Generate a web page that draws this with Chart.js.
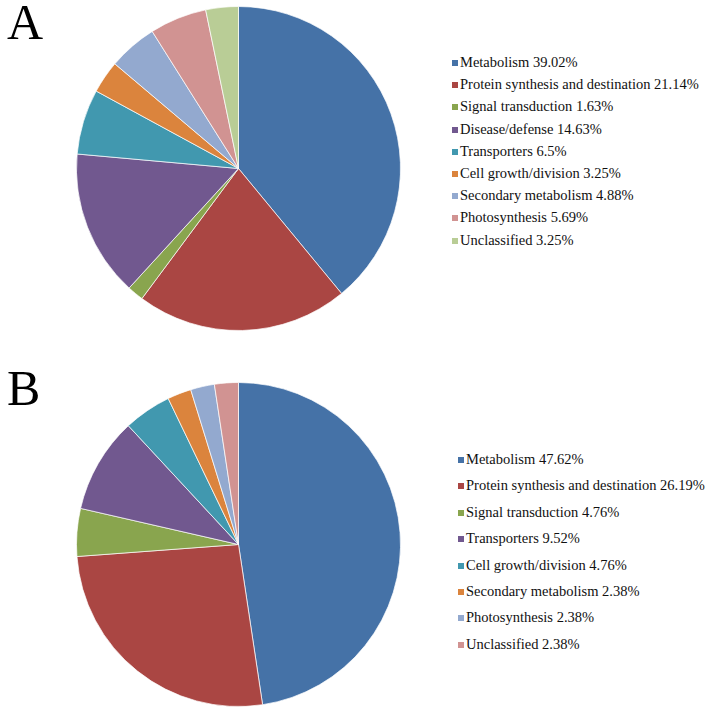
<!DOCTYPE html>
<html>
<head>
<meta charset="utf-8">
<script src="https://cdn.jsdelivr.net/npm/chart.js@4.4.0/dist/chart.umd.min.js"></script>
<style>
  body { margin: 0; background: #fff; }
  #wrap { position: relative; width: 714px; height: 710px; overflow: hidden; font-family: "Liberation Serif", "DejaVu Serif", serif; }
  .tag { position: absolute; left: 7px; font-family: "Liberation Serif", serif; font-size: 50px; line-height: 50px; color: #000; }
  .pie { position: absolute; }
  .legend { position: absolute; font-family: "Liberation Serif", serif; font-size: 14.5px; color: #111; }
  .legend div { white-space: nowrap; }
  .legend span.box { display: inline-block; width: 6px; height: 6px; margin-right: 2px; vertical-align: 1px; }
</style>
</head>
<body>
<div id="wrap">
  <div class="tag" style="top:-3px">A</div>
  <div class="tag" style="top:363px">B</div>
  <canvas id="pieA" class="pie" width="325" height="325" style="left:76px;top:6px"></canvas>
  <canvas id="pieB" class="pie" width="325" height="325" style="left:76px;top:382px"></canvas>
  <div id="legendA" class="legend" style="left:452px;top:51px"></div>
  <div id="legendB" class="legend" style="left:458px;top:446px"></div>
</div>
<script>
// panel A
var labelsA = ['Metabolism', 'Protein synthesis and destination', 'Signal transduction', 'Disease/defense',
  'Transporters', 'Cell growth/division', 'Secondary metabolism', 'Photosynthesis', 'Unclassified'];
var valuesA = [39.02, 21.14, 1.63, 14.63, 6.5, 3.25, 4.88, 5.69, 3.25];
var colorsA = ['#4572A7', '#AA4643', '#89A54E', '#71588F', '#4198AF', '#DB843D', '#93A9CF', '#D19392', '#B9CD96'];

// panel B
var labelsB = ['Metabolism', 'Protein synthesis and destination', 'Signal transduction', 'Transporters',
  'Cell growth/division', 'Secondary metabolism', 'Photosynthesis', 'Unclassified'];
var valuesB = [47.62, 26.19, 4.76, 9.52, 4.76, 2.38, 2.38, 2.38];
var colorsB = ['#4572A7', '#AA4643', '#89A54E', '#71588F', '#4198AF', '#DB843D', '#93A9CF', '#D19392'];

function makePie(id, labels, values, colors) {
  return new Chart(document.getElementById(id).getContext('2d'), {
    type: 'pie',
    data: {
      labels: labels,
      datasets: [{
        data: values,
        backgroundColor: colors,
        borderColor: 'rgba(255,255,255,0.7)',
        borderWidth: 1,
        hoverOffset: 0
      }]
    },
    options: {
      responsive: false,
      animation: false,
      layout: { padding: 0 },
      plugins: {
        legend: { display: false },
        tooltip: { enabled: false }
      }
    }
  });
}

function makeLegend(id, labels, values, colors, rowHeight) {
  var box = document.getElementById(id);
  labels.forEach(function (lab, i) {
    var row = document.createElement('div');
    row.style.height = rowHeight + 'px';
    row.style.lineHeight = rowHeight + 'px';
    var sq = document.createElement('span');
    sq.className = 'box';
    sq.style.background = colors[i];
    row.appendChild(sq);
    row.appendChild(document.createTextNode(lab + ' ' + values[i] + '%'));
    box.appendChild(row);
  });
}

makePie('pieA', labelsA, valuesA, colorsA);
makePie('pieB', labelsB, valuesB, colorsB);
makeLegend('legendA', labelsA, valuesA, colorsA, 22.2);
makeLegend('legendB', labelsB, valuesB, colorsB, 26.4);
</script>
</body>
</html>
